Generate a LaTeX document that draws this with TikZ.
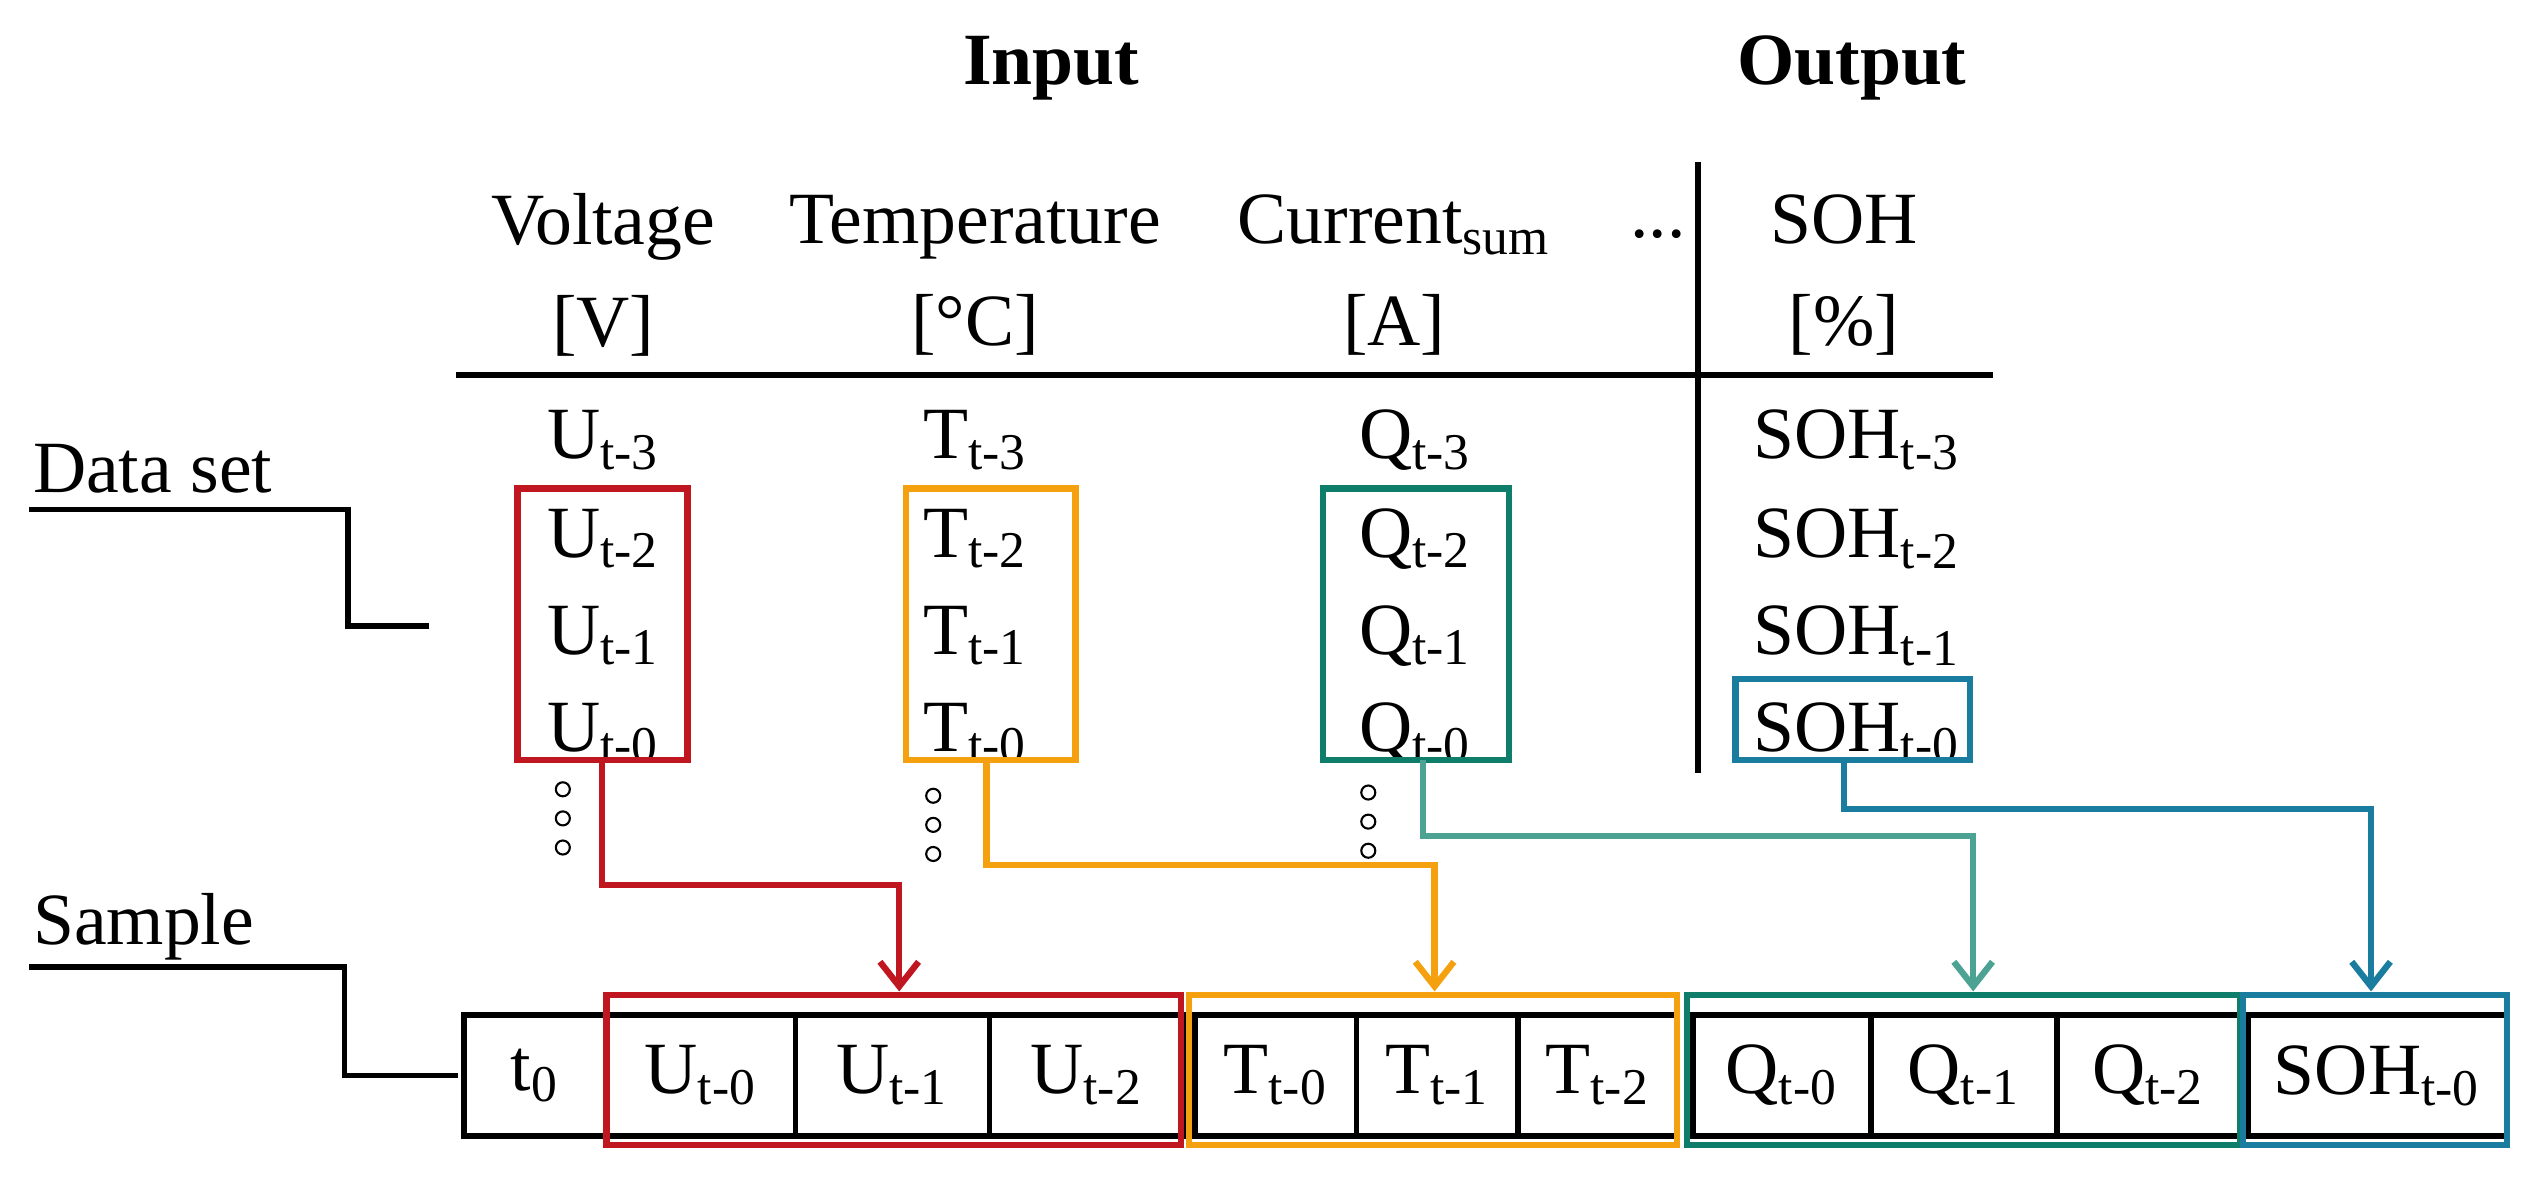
\documentclass[tikz,border=0pt]{standalone}
\usepackage{fontspec}
\setmainfont{Liberation Serif}
\usetikzlibrary{arrows.meta}
\definecolor{cred}{HTML}{C0161F}
\definecolor{corange}{HTML}{F5A00F}
\definecolor{cgreen}{HTML}{0E7D6A}
\definecolor{clgreen}{HTML}{4CA393}
\definecolor{cblue}{HTML}{1A7DA0}
\newcommand{\sub}[1]{\textsubscript{#1}}
\tikzset{
  txt/.style={font=\fontsize{21}{25}\selectfont, inner sep=0pt},
  hdr/.style={font=\fontsize{21}{25}\selectfont\bfseries, inner sep=0pt},
  cell/.style={draw, line width=1.6pt, minimum height=75*0.0162cm, inner sep=0pt, anchor=west, font=\fontsize{21}{25}\selectfont},
  grp/.style={draw=#1, line width=1.8pt},
  link/.style={draw=#1, line width=1.8pt, -{Straight Barb[length=7pt,width=11pt]}},
  dot/.style={circle, draw, line width=0.6pt, minimum size=4pt, inner sep=0pt}
}
\begin{document}
\begin{tikzpicture}[x=0.0162cm, y=-0.0162cm]
  \useasboundingbox (0,0) rectangle (1568,731);
  % headings
  \node[hdr] (in) at (650,42) {Input};
  \node[hdr] (out) at (1145,42) {Output};
  \node[txt, align=center] (hv) at (373,170) {Voltage\\[4pt][V]};
  \node[txt, align=center] (ht) at (603,170) {Temperature\\[4pt][°C]};
  \node[txt, align=center] (hc) at (862,170) {Current\sub{sum}\\[4pt][A]};
  \node[txt] (hd) at (1025,145) {...};
  \node[txt, align=center] (hs) at (1140,170) {SOH\\[4pt][\%]};
  \draw[line width=1.8pt] (282,232) -- (1232,232);
  \draw[line width=1.8pt] (1050,100) -- (1050,478);
  % data rows
  \foreach \k/\y in {3/272,2/333,1/393,0/453}{
    \node[txt] (u\k) at (373,\y) {U\sub{t-\k}};
    \node[txt] (t\k) at (603,\y) {T\sub{t-\k}};
    \node[txt] (q\k) at (875,\y) {Q\sub{t-\k}};
    \node[txt] (s\k) at (1148,\y) {SOH\sub{t-\k}};
  }
  \draw[grp=cred] (320,302) rectangle (425,470);
  \draw[grp=corange] (560,302) rectangle (665,470);
  \draw[grp=cgreen] (818,302) rectangle (933,470);
  \draw[grp=cblue] (1073,420) rectangle (1218,470);
  % dots
  \foreach \x/\y in {348/488,577/492,846/490}{
    \foreach \d in {0,18,36}
      \node[dot] at (\x,\y+\d) {};
  }
  % labels left
  \node[txt, anchor=west] (ds) at (20,290) {Data set};
  \draw[line width=1.6pt] (18,315) -- (215,315) -- (215,387) -- (265,387);
  \node[txt, anchor=west] (sa) at (20,573) {Sample};
  \draw[line width=1.6pt] (18,598) -- (213,598) -- (213,665) -- (283,665);
  % sample row
  \node[cell, minimum width=88*0.0162cm] (c0) at (285,665) {t\sub{0}\hspace{2em}};
  \node[cell, minimum width=117*0.0162cm] (cu0) at (373,665) {U\sub{t-0}};
  \node[cell, minimum width=120*0.0162cm] (cu1) at (490,665) {U\sub{t-1}};
  \node[cell, minimum width=120*0.0162cm] (cu2) at (610,665) {U\sub{t-2}};
  \node[cell, minimum width=100*0.0162cm] (ct0) at (737,665) {T\sub{t-0}};
  \node[cell, minimum width=100*0.0162cm] (ct1) at (837,665) {T\sub{t-1}};
  \node[cell, minimum width=98*0.0162cm] (ct2) at (937,665) {T\sub{t-2}};
  \node[cell, minimum width=110*0.0162cm] (cq0) at (1045,665) {Q\sub{t-0}};
  \node[cell, minimum width=115*0.0162cm] (cq1) at (1155,665) {Q\sub{t-1}};
  \node[cell, minimum width=113*0.0162cm] (cq2) at (1270,665) {Q\sub{t-2}};
  \node[cell, minimum width=160*0.0162cm] (cs0) at (1388,665) {SOH\sub{t-0}};
  \draw[grp=cred] (375,615) rectangle (730,708);
  \draw[grp=corange] (735,615) rectangle (1037,708);
  \draw[grp=cgreen] (1043,615) rectangle (1385,708);
  \draw[grp=cblue] (1387,615) rectangle (1550,708);
  % connectors
  \coordinate (ra) at (372,470); \coordinate (rb) at (556,613);
  \coordinate (oa) at (610,470); \coordinate (ob) at (887,613);
  \coordinate (ga) at (880,470); \coordinate (gb) at (1220,613);
  \coordinate (ba) at (1140,470); \coordinate (bb) at (1466,613);
  \draw[link=cred] (ra) -- (372,547) -| (rb);
  \draw[link=corange] (oa) -- (610,535) -| (ob);
  \draw[link=clgreen] (ga) -- (880,517) -| (gb);
  \draw[link=cblue] (ba) -- (1140,500) -| (bb);
\end{tikzpicture}
\end{document}
